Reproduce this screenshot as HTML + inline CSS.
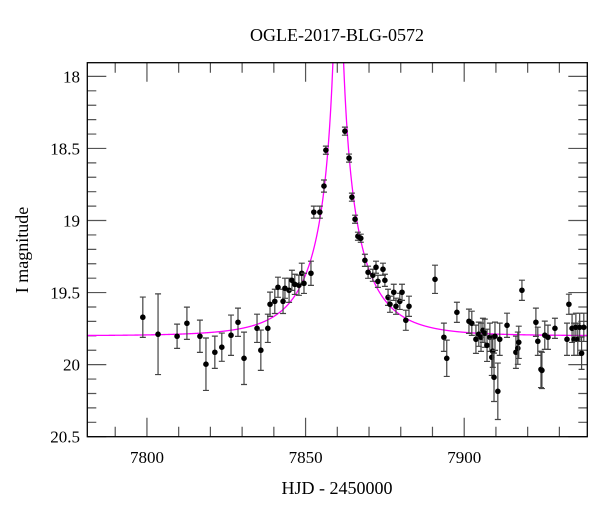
<!DOCTYPE html>
<html><head><meta charset="utf-8"><style>
body{margin:0;background:#fff}
svg text{font-family:"Liberation Serif",serif;fill:#000}
</style></head><body>
<svg id="chart" width="600" height="512" xmlns="http://www.w3.org/2000/svg">
<text x="337" y="41" font-size="18" text-anchor="middle">OGLE-2017-BLG-0572</text>
<text x="337" y="494" font-size="18" text-anchor="middle">HJD - 2450000</text>
<text x="0" y="0" font-size="18" text-anchor="middle" transform="translate(28,250) rotate(-90)">I magnitude</text>
<g id="ticks"></g><g id="curve"></g><g id="pts"></g>
<rect x="87.3" y="62.7" width="500" height="374" fill="none" stroke="#000" stroke-width="1.3"/>
</svg>
<script>
const days=[7798.7,7803.5,7809.5,7812.6,7816.7,7818.6,7821.4,7823.6,7826.5,7828.7,7830.6,7834.7,7835.9,7838.1,7838.8,7840.3,7841.3,7842.9,7843.5,7844.8,7845.7,7846.6,7847.9,7848.8,7849.5,7851.7,7852.6,7854.5,7855.8,7856.4,7862.4,7863.7,7864.6,7865.6,7866.5,7867.4,7868.7,7869.7,7871.2,7872.2,7872.8,7874.4,7875.0,7876.0,7876.6,7877.8,7878.5,7879.7,7880.4,7881.6,7882.6,7890.8,7893.6,7894.5,7897.7,7901.5,7902.4,7903.7,7904.6,7905.3,7905.9,7906.5,7907.2,7908.1,7908.7,7909.0,7909.4,7909.7,7910.6,7911.2,7913.5,7916.3,7916.9,7917.2,7918.2,7922.6,7923.2,7924.2,7924.5,7925.4,7926.4,7928.6,7932.4,7933.0,7934.0,7934.6,7935.2,7935.8,7936.4,7937.0,7937.7];
const mags=[19.671,19.789,19.803,19.713,19.803,19.997,19.914,19.879,19.796,19.706,19.956,19.748,19.900,19.748,19.581,19.561,19.463,19.561,19.470,19.484,19.415,19.443,19.449,19.366,19.436,19.366,18.942,18.942,18.761,18.512,18.380,18.567,18.838,18.991,19.109,19.123,19.276,19.359,19.380,19.324,19.422,19.338,19.415,19.533,19.581,19.498,19.595,19.561,19.498,19.692,19.595,19.408,19.810,19.956,19.637,19.699,19.713,19.824,19.789,19.810,19.762,19.782,19.866,19.810,19.949,19.907,20.088,19.803,20.185,19.824,19.727,19.914,19.886,19.845,19.484,19.706,19.838,20.033,20.040,19.796,19.810,19.748,19.824,19.581,19.748,19.824,19.741,19.824,19.741,19.921,19.741];
const errs=[0.1,0.2,0.06,0.08,0.08,0.13,0.08,0.07,0.1,0.07,0.13,0.07,0.1,0.07,0.06,0.06,0.05,0.06,0.05,0.06,0.05,0.05,0.05,0.05,0.05,0.06,0.03,0.03,0.03,0.02,0.02,0.02,0.02,0.02,0.02,0.02,0.03,0.03,0.03,0.03,0.03,0.03,0.03,0.04,0.04,0.04,0.04,0.04,0.04,0.05,0.05,0.07,0.07,0.09,0.05,0.06,0.06,0.07,0.06,0.07,0.06,0.07,0.08,0.07,0.09,0.08,0.12,0.07,0.14,0.08,0.06,0.08,0.08,0.08,0.05,0.07,0.07,0.09,0.09,0.07,0.06,0.05,0.08,0.05,0.07,0.08,0.07,0.08,0.07,0.08,0.07];
const xTicks=[7800,7850,7900];
const yTicks=[18,18.5,19,19.5,20,20.5];
const model={t0:7860.3,tE:18,u0:0.02,fs:0.5,base:19.80};
const X0=7781.2,X1=7938.8,Y0=17.905,Y1=20.5,L=87.3,R=587.3,T=62.7,B=436.7;
const sx=d=>L+(d-X0)/(X1-X0)*(R-L);
const sy=m=>T+(m-Y0)/(Y1-Y0)*(B-T);
const NS="http://www.w3.org/2000/svg";
function mk(tag,attrs,parent){const e=document.createElementNS(NS,tag);for(const k in attrs)e.setAttribute(k,attrs[k]);parent.appendChild(e);return e;}
const tg=document.getElementById('ticks');
for(let d=7790;d<=7930;d+=10){const maj=xTicks.includes(d);const len=maj?19:10;const x=sx(d);
 const t=mk('path',{d:`M${x},${B}V${B-len}M${x},${T}V${T+len}`,stroke:'#555','stroke-width':1.2},tg);
 
 }
xTicks.forEach(d=>{const t=mk('text',{x:sx(d),y:463,'font-size':17,'text-anchor':'middle'},tg);t.textContent=d;
 
 });
for(let i=0;i<=25;i++){const m=18+i*0.1;const maj=i%5===0;const len=maj?19:9;const y=sy(m);
 const t=mk('path',{d:`M${L},${y}H${L+len}M${R},${y}H${R-len}`,stroke:'#555','stroke-width':1.2},tg);
 
 }
yTicks.forEach(m=>{const t=mk('text',{x:80,y:sy(m)+6,'font-size':17,'text-anchor':'end'},tg);t.textContent=String(m);
 
 });
function magAt(t){const u=Math.sqrt(model.u0**2+((t-model.t0)/model.tE)**2);const A=(u*u+2)/(u*Math.sqrt(u*u+4));return model.base-2.5*Math.log10(model.fs*A+1-model.fs);}
let d='';for(let t=X0;t<=X1;t+=0.05){const m=Math.max(magAt(t),17.5);d+=(d?'L':'M')+sx(t).toFixed(2)+','+sy(m).toFixed(2);}
const cg=document.getElementById('curve');
mk('clipPath',{id:'clip'},cg);mk('rect',{x:L,y:T,width:R-L,height:B-T},cg.querySelector('#clip'));
const c=mk('path',{d:d,fill:'none',stroke:'#ff00ff','stroke-width':1.3,'clip-path':'url(#clip)'},cg);


const pg=document.getElementById('pts');
days.forEach((t,i)=>{const x=sx(t),y=sy(mags[i]),e=errs[i]*144*1.4;
 const eb=mk('path',{d:`M${x},${y-e}V${y+e}M${x-3},${y-e}H${x+3}M${x-3},${y+e}H${x+3}`,stroke:'#444','stroke-width':1.2},pg);
 
 
 const p=mk('circle',{cx:x,cy:y,r:2.8,fill:'#000'},pg);
 
 });
</script>
</body></html>
